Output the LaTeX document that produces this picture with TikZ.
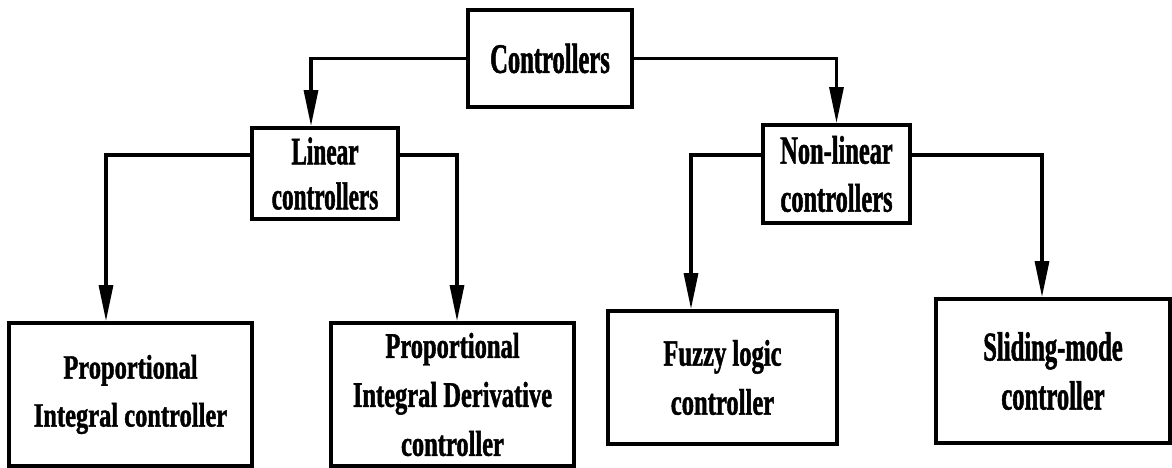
\documentclass[tikz,border=0pt]{standalone}
\usepackage{fontspec}
\setmainfont{Liberation Serif}
% condensed heavy serif faces, one width per box
\newfontfamily\fctrl{Liberation Serif}[FakeStretch=0.585,FakeBold=1.2]
\newfontfamily\flin{Liberation Serif}[FakeStretch=0.595,FakeBold=1.2]
\newfontfamily\fnon{Liberation Serif}[FakeStretch=0.61,FakeBold=1.2]
\newfontfamily\fpi{Liberation Serif}[FakeStretch=0.72,FakeBold=1.2]
\newfontfamily\fpid{Liberation Serif}[FakeStretch=0.68,FakeBold=1.2]
\newfontfamily\ffuz{Liberation Serif}[FakeStretch=0.665,FakeBold=1.2]
\newfontfamily\fsld{Liberation Serif}[FakeStretch=0.60,FakeBold=1.2]
\usetikzlibrary{arrows.meta}
\begin{document}
\begin{tikzpicture}[x=1pt,y=-1pt,
  box/.style={draw, line width=3.8pt, inner sep=0pt, align=center},
  link/.style={line width=3.2pt, -{Triangle[length=36pt,width=14pt]}}]
\useasboundingbox (0,0) rectangle (1172,468);

% boxes
\node[box, minimum width=164pt, minimum height=97pt,
      font=\fctrl\fontsize{42}{48}\selectfont\bfseries] (ctrl) at (550,58.5) {Controllers};
\node[box, minimum width=146pt, minimum height=91pt,
      font=\flin\fontsize{39}{45}\selectfont\bfseries] (lin) at (325,173.5) {Linear\\controllers};
\node[box, minimum width=147pt, minimum height=98pt,
      font=\fnon\fontsize{40}{48}\selectfont\bfseries] (nonlin) at (836.5,174) {Non-linear\\controllers};
\node[box, minimum width=243pt, minimum height=143pt,
      font=\fpi\fontsize{34}{48}\selectfont\bfseries] (pi) at (130.5,394.5) {Proportional\\Integral controller};
\node[box, minimum width=243pt, minimum height=143pt,
      font=\fpid\fontsize{36}{49}\selectfont\bfseries] (pid) at (452.5,394.5) {Proportional\\Integral Derivative\\controller};
\node[box, minimum width=229pt, minimum height=133pt,
      font=\ffuz\fontsize{37}{49}\selectfont\bfseries] (fuzzy) at (722.5,377.5) {Fuzzy logic\\controller};
\node[box, minimum width=234pt, minimum height=144pt,
      font=\fsld\fontsize{41}{49}\selectfont\bfseries] (slide) at (1053,371) {Sliding-mode\\controller};

% connectors
\draw[link] (ctrl.west) -| ([xshift=-14pt]lin.north);
\draw[link] (ctrl.east) -| (nonlin.north);
\draw[link] ([yshift=18.5pt]lin.west) -| ([xshift=-24.5pt]pi.north);
\draw[link] ([yshift=18.5pt]lin.east) -| ([xshift=4.5pt]pid.north);
\draw[link] ([yshift=19pt]nonlin.west) -| ([xshift=-31.5pt]fuzzy.north);
\draw[link] ([yshift=19pt]nonlin.east) -| ([xshift=-11pt]slide.north);
\end{tikzpicture}
\end{document}
